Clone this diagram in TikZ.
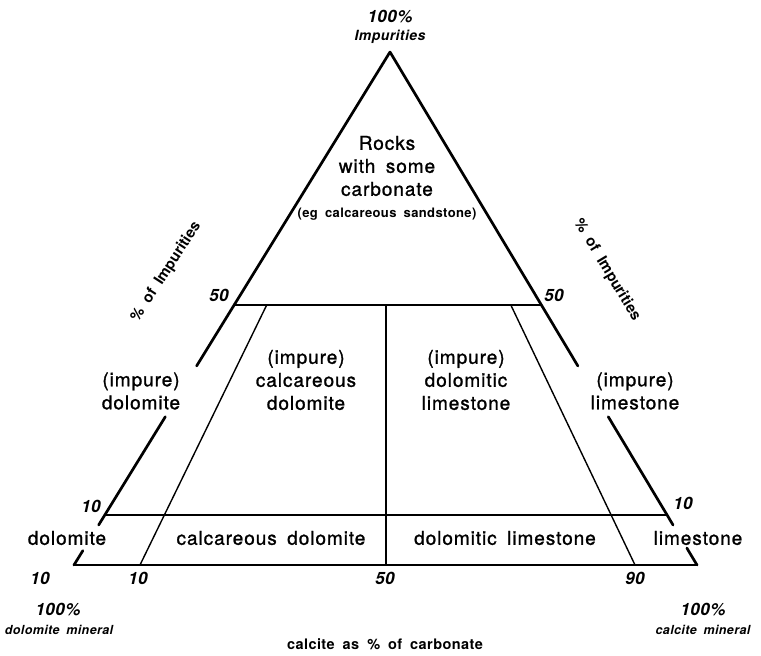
\documentclass[tikz,border=0pt]{standalone}
\usepackage{fontspec}
\setmainfont{TeX Gyre Heros}[LetterSpace=3]
\newfontfamily\medfont{TeX Gyre Heros}[LetterSpace=5, FakeBold=1.2]
\newfontfamily\rotfont{TeX Gyre Heros}
\usetikzlibrary{calc}
\newcommand{\wsp}{\hspace{0.55em}}
\begin{document}
\begin{tikzpicture}[x=1pt,y=-1pt,
  side/.style={line width=2.7pt, line cap=round},
  thin/.style={line width=1.4pt},
  region/.style={font=\medfont\fontsize{19}{23}\selectfont, align=center, inner sep=0pt},
  small/.style={font=\fontsize{13}{15}\selectfont\bfseries, align=center, inner sep=0pt},
  num/.style={font=\fontsize{17}{20}\selectfont\bfseries\itshape, inner sep=0pt},
  cornerlab/.style={font=\fontsize{14}{17}\selectfont\bfseries\itshape, inner sep=0pt},
  minlab/.style={font=\fontsize{12.5}{15}\selectfont\bfseries\itshape, inner sep=0pt},
  axislab/.style={font=\fontsize{14.5}{17}\selectfont\bfseries, inner sep=0pt},
  rotlab/.style={font=\rotfont\fontsize{15}{17}\selectfont\bfseries, inner sep=0pt}]
\useasboundingbox[fill=white] (0,0) rectangle (761,656);
% corners
\coordinate (A) at (390,52);
\coordinate (L) at (74,565);
\coordinate (R) at (697,565);
% left side with gaps
\coordinate (La) at ($(A)!0.612!(L)$);
\coordinate (Lb) at ($(A)!0.711!(L)$);
\coordinate (Lc) at ($(A)!0.922!(L)$);
\coordinate (Ld) at ($(A)!0.972!(L)$);
\draw[side] (A) -- (La) (Lb) -- (Lc) (Ld) -- (L);
% right side with gaps
\coordinate (Ra) at ($(A)!0.612!(R)$);
\coordinate (Rb) at ($(A)!0.711!(R)$);
\coordinate (Rc) at ($(A)!0.922!(R)$);
\coordinate (Rd) at ($(A)!0.967!(R)$);
\draw[side] (A) -- (Ra) (Rb) -- (Rc) (Rd) -- (R);
% base
\draw[side] (L) -- (R);
% 50% and 10% lines
\coordinate (H50L) at ($(A)!0.4932!(L)$);
\coordinate (H50R) at ($(A)!0.4932!(R)$);
\coordinate (H10L) at ($(A)!0.9025!(L)$);
\coordinate (H10R) at ($(A)!0.9025!(R)$);
\draw[thin] (H50L) -- (H50R);
\draw[thin] (H10L) -- (H10R);
% internal lines
\coordinate (B10) at (140,565);
\coordinate (B50) at (386,565);
\coordinate (B90) at (635,565);
\coordinate (T10) at ($(B10)!0.5068!(A)$);
\coordinate (T90) at ($(B90)!0.5068!(A)$);
\coordinate (T50) at (386,305);
\draw[thin] (B10) -- (T10);
\draw[thin] (B50) -- (T50);
\draw[thin] (B90) -- (T90);
% top labels
\node[num] (top100) at (390,17) {100\%};
\node[cornerlab] (topimp) at (390,37) {Impurities};
\node[region] (rocks) at (387,166) {Rocks\\with\wsp some\\carbonate};
\node[small] (eg) at (387,214) {(eg\wsp calcareous\wsp sandstone)};
% side labels
\node[rotlab, rotate=57] (leftax) at (166,272) {\%\wsp of\wsp Impurities};
\node[rotlab, rotate=-59] (rightax) at (607,270) {\%\wsp of\wsp Impurities};
% 50 labels
\node[num] (n50l) at (219,295) {50};
\node[num] (n50r) at (554,295) {50};
% region labels
\node[region] (impdol) at (141,391) {(impure)\\dolomite};
\node[region] (impcaldol) at (306,380) {(impure)\\calcareous\\dolomite};
\node[region] (impdollim) at (466,380) {(impure)\\dolomitic\\limestone};
\node[region] (implim) at (635,391) {(impure)\\limestone};
% 10 labels
\node[num] (n10l) at (91,506) {10};
\node[num] (n10r) at (683,503) {10};
% bottom row
\node[region] (dol) at (67,538) {dolomite};
\node[region] (caldol) at (271,538) {calcareous\wsp dolomite};
\node[region] (dollim) at (505,538) {dolomitic\wsp limestone};
\node[region] (lim) at (698,538) {limestone};
% base numbers
\node[num] (b10a) at (40,578) {10};
\node[num] (b10b) at (138,578) {10};
\node[num] (b50) at (385,578) {50};
\node[num] (b90) at (635,578) {90};
% corner labels
\node[num] (dol100) at (58,610) {100\%};
\node[minlab] (dolmin) at (59,630) {dolomite\wsp mineral};
\node[num] (cal100) at (703,610) {100\%};
\node[minlab] (calmin) at (703,630) {calcite\wsp mineral};
\node[axislab] (caption) at (385,644) {calcite\wsp as\wsp \%\wsp of\wsp carbonate};
\end{tikzpicture}
\end{document}
